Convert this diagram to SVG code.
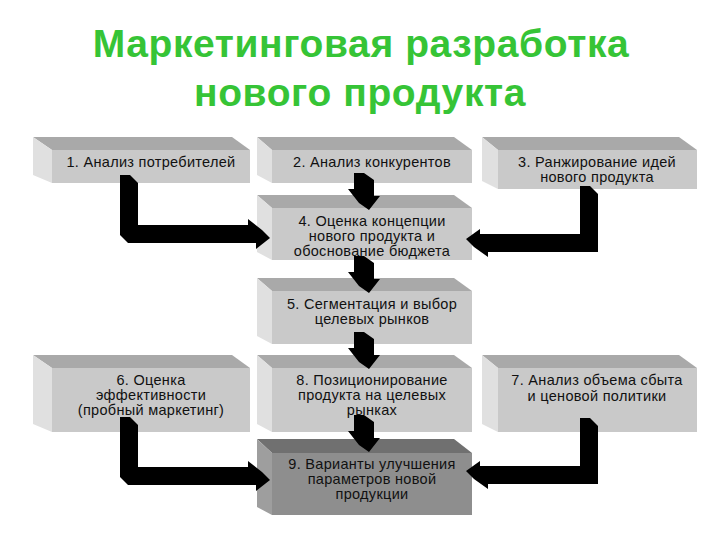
<svg xmlns="http://www.w3.org/2000/svg" xmlns:xlink="http://www.w3.org/1999/xlink" width="720" height="540" viewBox="0 0 720 540">
<style>
.top{fill:#a9a9a9}
.side{fill:#e0e0e0}
.front{fill:#c9c9c9}
.d .top{fill:#707070}
.d .side{fill:#9e9e9e}
.d .front{fill:#8e8e8e}
.t{font-family:"Liberation Sans",Arial,sans-serif;font-size:14.5px;letter-spacing:0.3px;fill:#111;text-anchor:middle}
.title{font-family:"Liberation Sans",Arial,sans-serif;font-size:39px;letter-spacing:0.6px;font-weight:bold;fill:#36c436;text-anchor:middle}
.arr{fill:#000}
</style>
<defs>
<path id="darr" d="M354,173 L364,173 L374,180 L374,196 L380,196 L369,210 L359,203 L348,189 L354,189 Z"/>
<path id="larr" d="M120,175 L130,175 L138,183 L138,225 L248,225 L248,219 L262,230 L270,238 L256,249 L256,243 L128,243 L120,235 Z"/>
<path id="rarr" d="M580,186 L590,186 L598,194 L598,252 L488,252 L488,257 L474,247 L466,239 L480,229 L480,234 L580,234 Z"/>
</defs>
<rect width="720" height="540" fill="#fff"/>
<g id="title">
<text class="title" x="361" y="57">Маркетинговая разработка</text>
<text class="title" x="360" y="106">нового продукта</text>
</g>
<g id="n1">
<polygon class="top" points="33,137 232,137 250,150 52,150"/>
<polygon class="side" points="33,137 52,150 52,183 33,175"/>
<rect class="front" x="52" y="150" width="198" height="33"/>
<text class="t" x="151" y="167">1. Анализ потребителей</text>
</g>
<g id="n2">
<polygon class="top" points="257,137 454,137 472,150 272,150"/>
<polygon class="side" points="257,137 272,150 272,183 257,175"/>
<rect class="front" x="272" y="150" width="200" height="33"/>
<text class="t" x="372" y="167">2. Анализ конкурентов</text>
</g>
<g id="n3">
<polygon class="top" points="482,137 679,137 697,150 498,150"/>
<polygon class="side" points="482,137 498,150 498,189 482,181"/>
<rect class="front" x="498" y="150" width="199" height="39"/>
<text class="t" x="597" y="167">3. Ранжирование идей</text>
<text class="t" x="597" y="182">нового продукта</text>
</g>
<g id="n4">
<polygon class="top" points="257,195 454,195 472,208 272,208"/>
<polygon class="side" points="257,195 272,208 272,260 257,252"/>
<rect class="front" x="272" y="208" width="200" height="52"/>
<text class="t" x="372" y="226">4. Оценка концепции</text>
<text class="t" x="372" y="241">нового продукта и</text>
<text class="t" x="372" y="256">обоснование бюджета</text>
</g>
<g id="n5">
<polygon class="top" points="257,278 454,278 472,291 272,291"/>
<polygon class="side" points="257,278 272,291 272,344 257,336"/>
<rect class="front" x="272" y="291" width="200" height="53"/>
<text class="t" x="372" y="309">5. Сегментация и выбор</text>
<text class="t" x="372" y="324">целевых рынков</text>
</g>
<g id="n6">
<polygon class="top" points="33,355 232,355 250,368 52,368"/>
<polygon class="side" points="33,355 52,368 52,432 33,424"/>
<rect class="front" x="52" y="368" width="198" height="64"/>
<text class="t" x="151" y="385">6. Оценка</text>
<text class="t" x="151" y="400">эффективности</text>
<text class="t" x="151" y="415">(пробный маркетинг)</text>
</g>
<g id="n8">
<polygon class="top" points="257,355 454,355 472,368 272,368"/>
<polygon class="side" points="257,355 272,368 272,432 257,424"/>
<rect class="front" x="272" y="368" width="200" height="64"/>
<text class="t" x="372" y="385">8. Позиционирование</text>
<text class="t" x="372" y="400">продукта на целевых</text>
<text class="t" x="372" y="415">рынках</text>
</g>
<g id="n7">
<polygon class="top" points="482,355 679,355 697,368 498,368"/>
<polygon class="side" points="482,355 498,368 498,432 482,424"/>
<rect class="front" x="498" y="368" width="199" height="64"/>
<text class="t" x="597" y="385">7. Анализ объема сбыта</text>
<text class="t" x="597" y="401">и ценовой политики</text>
</g>
<g id="n9" class="d">
<polygon class="top" points="257,439 454,439 472,453 272,453"/>
<polygon class="side" points="257,439 272,453 272,515 257,507"/>
<rect class="front" x="272" y="453" width="200" height="62"/>
<text class="t" x="372" y="469">9. Варианты улучшения</text>
<text class="t" x="372" y="484">параметров новой</text>
<text class="t" x="372" y="499">продукции</text>
</g>
<g id="connectors" class="arr">
<use xlink:href="#larr"/>
<use xlink:href="#darr"/>
<use xlink:href="#rarr"/>
<use xlink:href="#darr" transform="translate(0,83)"/>
<use xlink:href="#darr" transform="translate(0,159)"/>
<use xlink:href="#darr" transform="translate(0,242)"/>
<use xlink:href="#larr" transform="translate(0,242)"/>
<use xlink:href="#rarr" transform="translate(0,232)"/>
</g>
</svg>
